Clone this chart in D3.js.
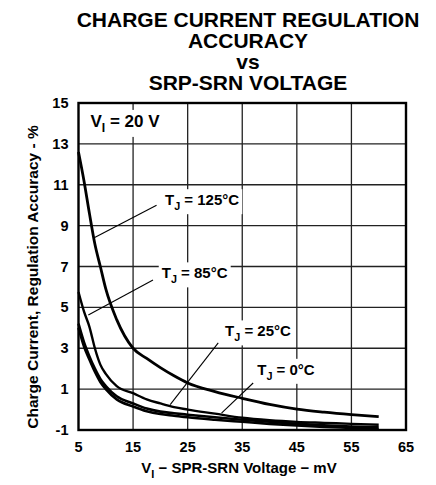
<!DOCTYPE html>
<html>
<head>
<meta charset="utf-8">
<script src="https://cdn.jsdelivr.net/npm/d3@7"></script>
<style>
  body { margin: 0; background: #fff; }
  text { font-family: "Liberation Sans", Arial, sans-serif; font-weight: bold; fill: #000; }
</style>
</head>
<body>
<svg id="chart"></svg>
<script>
// SRP-SRN voltage (mV) sample points
const voltage = [5, 6, 7, 8, 9, 10, 12, 15, 17.5, 20, 22.5, 25, 30, 35, 40, 45, 50, 55, 60];

// regulation accuracy (%) per junction temperature
const acc125 = [12.6, 11.2, 9.6, 8.1, 7.0, 5.9, 4.4, 3.0, 2.5, 2.05, 1.65, 1.3, 0.88, 0.55, 0.25, 0.02, -0.13, -0.25, -0.35];
const acc85  = [5.75, 4.8, 4.05, 3.0, 2.2, 1.75, 1.15, 0.8, 0.5, 0.3, 0.12, 0.0, -0.2, -0.4, -0.52, -0.6, -0.65, -0.7, -0.74];
const acc25  = [4.2, 3.3, 2.6, 2.0, 1.5, 1.15, 0.65, 0.3, 0.05, -0.1, -0.18, -0.25, -0.38, -0.5, -0.6, -0.7, -0.77, -0.83, -0.87];
const acc0   = [4.0, 3.1, 2.45, 1.85, 1.35, 1.0, 0.5, 0.15, -0.08, -0.22, -0.3, -0.38, -0.5, -0.6, -0.7, -0.78, -0.85, -0.9, -0.95];

const xTicks = [5, 15, 25, 35, 45, 55, 65];
const yTicks = [-1, 1, 3, 5, 7, 9, 11, 13, 15];

const titleLines = ['CHARGE CURRENT REGULATION', 'ACCURACY', 'vs', 'SRP-SRN VOLTAGE'];

// curve labels: text position and leader line (data units)
const labelTemps = ['125', '85', '25', '0'];
const labelPos = [[20.85, 10.0], [20.25, 6.42], [31.85, 3.58], [37.75, 1.7]];
const leaderFrom = [[19.3, 10.0], [18.65, 6.34], [30.6, 3.26], [37.0, 1.3]];
const leaderTo = [[7.7, 8.38], [6.8, 4.63], [21.8, 0.24], [31.2, -0.17]];

const width = 436, height = 485;
const margin = { top: 103, right: 30, bottom: 55, left: 78.5 };

const svg = d3.select('#chart')
    .attr('width', width)
    .attr('height', height);

const innerW = width - margin.left - margin.right;
const innerH = height - margin.top - margin.bottom;

const x = d3.scaleLinear().domain([5, 65]).range([0, innerW]);
const y = d3.scaleLinear().domain([-1, 15]).range([innerH, 0]);

const chart = svg.append('g')
    .attr('transform', `translate(${margin.left}, ${margin.top})`);

// title
svg.append('g').selectAll('text')
    .data(titleLines)
    .join('text')
        .attr('x', 248)
        .attr('y', (d, i) => 27 + i * 21)
        .attr('text-anchor', 'middle')
        .style('font-size', '21px')
        .text(d => d);

// grid
chart.append('g').selectAll('line')
    .data(xTicks.slice(1, -1))
    .join('line')
        .attr('x1', d => x(d)).attr('x2', d => x(d))
        .attr('y1', 0).attr('y2', innerH)
        .attr('stroke', '#222').attr('stroke-width', 1.3);

chart.append('g').selectAll('line')
    .data(yTicks.slice(1, -1))
    .join('line')
        .attr('x1', 0).attr('x2', innerW)
        .attr('y1', d => y(d)).attr('y2', d => y(d))
        .attr('stroke', '#222').attr('stroke-width', 1.3);

// curves
const line = d3.line()
    .x((d, i) => x(voltage[i]))
    .y(d => y(d))
    .curve(d3.curveMonotoneX);

const series = [acc125, acc85, acc25, acc0];
const widths = [2.8, 2.4, 2.6, 2.6];
chart.append('g').selectAll('path')
    .data(series)
    .join('path')
        .attr('d', d => line(d))
        .attr('fill', 'none')
        .attr('stroke', '#000')
        .attr('stroke-width', (d, i) => widths[i]);

// labels with white boxes
const labels = chart.append('g');

function boxedLabel(g, px, py, main, sub, rest, size, pad) {
    const t = g.append('text')
        .attr('x', px).attr('y', py)
        .style('font-size', size + 'px');
    t.append('tspan').text(main);
    t.append('tspan').attr('dy', 5).style('font-size', (size * 0.72) + 'px').text(sub);
    t.append('tspan').attr('dy', -5).text(rest);
    const bb = t.node().getBBox();
    g.insert('rect', 'text')
        .attr('x', bb.x - pad).attr('y', bb.y - 2)
        .attr('width', bb.width + pad * 2).attr('height', bb.height + 4)
        .attr('fill', '#fff');
}

boxedLabel(labels, x(7.2), y(13.83), 'V', 'I', ' = 20 V', 17, 4);

labelTemps.forEach((t, i) => {
    const g = labels.append('g');
    boxedLabel(g, x(labelPos[i][0]), y(labelPos[i][1]), 'T', 'J', ` = ${t}°C`, 15, 3);
});

chart.append('g').selectAll('line')
    .data(leaderFrom)
    .join('line')
        .attr('x1', d => x(d[0])).attr('y1', d => y(d[1]))
        .attr('x2', (d, i) => x(leaderTo[i][0])).attr('y2', (d, i) => y(leaderTo[i][1]))
        .attr('stroke', '#000').attr('stroke-width', 1.1);

// frame
chart.append('rect')
    .attr('width', innerW).attr('height', innerH)
    .attr('fill', 'none').attr('stroke', '#000').attr('stroke-width', 2.4);

// tick labels
chart.append('g').selectAll('text')
    .data(xTicks)
    .join('text')
        .attr('x', d => x(d))
        .attr('y', innerH + 22)
        .attr('text-anchor', 'middle')
        .style('font-size', '14.5px')
        .text(d => d);

chart.append('g').selectAll('text')
    .data(yTicks)
    .join('text')
        .attr('x', -10)
        .attr('y', d => y(d) + 5)
        .attr('text-anchor', 'end')
        .style('font-size', '14.5px')
        .text(d => d);

// axis titles
const xt = svg.append('text')
    .attr('x', 239).attr('y', 473)
    .attr('text-anchor', 'middle')
    .style('font-size', '15px');
xt.append('tspan').text('V');
xt.append('tspan').attr('dy', 5).style('font-size', '11px').text('I');
xt.append('tspan').attr('dy', -5).text(' − SPR-SRN Voltage − mV');

svg.append('text')
    .attr('transform', 'translate(37.5, 277) rotate(-90)')
    .attr('text-anchor', 'middle')
    .style('font-size', '15.5px')
    .text('Charge Current, Regulation Accuracy - %');
</script>
</body>
</html>
